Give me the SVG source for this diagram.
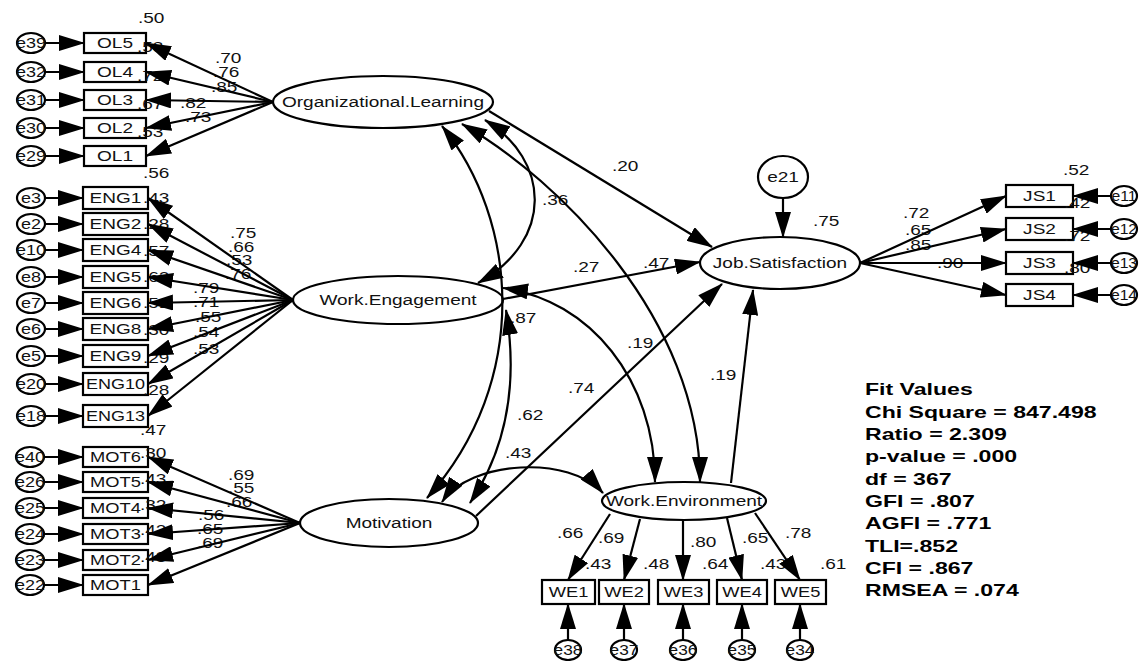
<svg xmlns="http://www.w3.org/2000/svg" width="1139" height="661" viewBox="0 0 1139 661">
<style>
.n ellipse,.n rect{fill:#fff;stroke:#000;stroke-width:2.2}
.t{font-family:"Liberation Sans",Arial,sans-serif;font-size:15px;fill:#111}
.m{text-anchor:middle}
.f{font-family:"Liberation Sans",Arial,sans-serif;font-size:16.5px;font-weight:bold;fill:#000}
.c path{fill:none;stroke:#000;stroke-width:2.2}
.a{marker-end:url(#ah)}
.d{marker-start:url(#ah);marker-end:url(#ah)}
</style>
<defs>
<marker id="ah" viewBox="0 0 26 16" refX="25" refY="8" markerWidth="26" markerHeight="16" markerUnits="userSpaceOnUse" orient="auto-start-reverse"><path d="M0,0 L26,8 L0,16 z" fill="#000"/></marker>
</defs>
<rect width="1139" height="661" fill="#fff"/>

<!-- latent nodes -->
<g id="ol" class="n"><ellipse cx="383" cy="102" rx="110" ry="26"/><text class="t m" transform="translate(383 107) scale(1.27 1)">Organizational.Learning</text></g>
<g id="weng" class="n"><ellipse cx="398" cy="300" rx="105" ry="24"/><text class="t m" transform="translate(398 305) scale(1.27 1)">Work.Engagement</text></g>
<g id="mot" class="n"><ellipse cx="389" cy="523" rx="89" ry="24"/><text class="t m" transform="translate(389 528) scale(1.27 1)">Motivation</text></g>
<g id="js" class="n"><ellipse cx="780" cy="263" rx="80" ry="26"/><text class="t m" transform="translate(780 268) scale(1.27 1)">Job.Satisfaction</text></g>
<g id="wenv" class="n"><ellipse cx="684" cy="501" rx="82" ry="19"/><text class="t m" transform="translate(684 506) scale(1.27 1)">Work.Environment</text></g>
<g id="e21" class="n"><ellipse cx="783" cy="177" rx="25" ry="21"/><text class="t m" transform="translate(783 182) scale(1.27 1)">e21</text></g>

<!-- OL indicators -->
<g id="OL5" class="n"><rect x="84" y="33" width="62" height="20"/><text class="t m" transform="translate(115 48) scale(1.27 1)">OL5</text></g>
<g id="OL4" class="n"><rect x="84" y="62" width="62" height="20"/><text class="t m" transform="translate(115 77) scale(1.27 1)">OL4</text></g>
<g id="OL3" class="n"><rect x="84" y="90" width="62" height="20"/><text class="t m" transform="translate(115 105) scale(1.27 1)">OL3</text></g>
<g id="OL2" class="n"><rect x="84" y="118" width="62" height="20"/><text class="t m" transform="translate(115 133) scale(1.27 1)">OL2</text></g>
<g id="OL1" class="n"><rect x="84" y="146" width="62" height="20"/><text class="t m" transform="translate(115 161) scale(1.27 1)">OL1</text></g>
<g id="e39" class="n"><ellipse cx="31" cy="43" rx="14" ry="10"/><text class="t m" transform="translate(31 48) scale(1.2 1)">e39</text></g>
<g id="e32" class="n"><ellipse cx="31" cy="72" rx="14" ry="10"/><text class="t m" transform="translate(31 77) scale(1.2 1)">e32</text></g>
<g id="e31" class="n"><ellipse cx="31" cy="100" rx="14" ry="10"/><text class="t m" transform="translate(31 105) scale(1.2 1)">e31</text></g>
<g id="e30" class="n"><ellipse cx="31" cy="128" rx="14" ry="10"/><text class="t m" transform="translate(31 133) scale(1.2 1)">e30</text></g>
<g id="e29" class="n"><ellipse cx="31" cy="156" rx="14" ry="10"/><text class="t m" transform="translate(31 161) scale(1.2 1)">e29</text></g>

<!-- ENG indicators -->
<g id="ENG1" class="n"><rect x="83" y="187" width="65" height="22"/><text class="t m" transform="translate(115.5 203) scale(1.27 1)">ENG1</text></g>
<g id="ENG2" class="n"><rect x="83" y="213" width="65" height="22"/><text class="t m" transform="translate(115.5 229) scale(1.27 1)">ENG2</text></g>
<g id="ENG4" class="n"><rect x="83" y="239" width="65" height="22"/><text class="t m" transform="translate(115.5 255) scale(1.27 1)">ENG4</text></g>
<g id="ENG5" class="n"><rect x="83" y="266" width="65" height="22"/><text class="t m" transform="translate(115.5 282) scale(1.27 1)">ENG5</text></g>
<g id="ENG6" class="n"><rect x="83" y="292" width="65" height="22"/><text class="t m" transform="translate(115.5 308) scale(1.27 1)">ENG6</text></g>
<g id="ENG8" class="n"><rect x="83" y="318" width="65" height="22"/><text class="t m" transform="translate(115.5 334) scale(1.27 1)">ENG8</text></g>
<g id="ENG9" class="n"><rect x="83" y="345" width="65" height="22"/><text class="t m" transform="translate(115.5 361) scale(1.27 1)">ENG9</text></g>
<g id="ENG10" class="n"><rect x="83" y="373" width="65" height="22"/><text class="t m" transform="translate(115.5 389) scale(1.2 1)">ENG10</text></g>
<g id="ENG13" class="n"><rect x="83" y="405" width="65" height="22"/><text class="t m" transform="translate(115.5 421) scale(1.2 1)">ENG13</text></g>
<g id="e3" class="n"><ellipse cx="31" cy="198" rx="14" ry="10"/><text class="t m" transform="translate(31 203) scale(1.2 1)">e3</text></g>
<g id="e2" class="n"><ellipse cx="31" cy="224" rx="14" ry="10"/><text class="t m" transform="translate(31 229) scale(1.2 1)">e2</text></g>
<g id="e10" class="n"><ellipse cx="31" cy="250" rx="14" ry="10"/><text class="t m" transform="translate(31 255) scale(1.2 1)">e10</text></g>
<g id="e8" class="n"><ellipse cx="31" cy="277" rx="14" ry="10"/><text class="t m" transform="translate(31 282) scale(1.2 1)">e8</text></g>
<g id="e7" class="n"><ellipse cx="31" cy="303" rx="14" ry="10"/><text class="t m" transform="translate(31 308) scale(1.2 1)">e7</text></g>
<g id="e6" class="n"><ellipse cx="31" cy="329" rx="14" ry="10"/><text class="t m" transform="translate(31 334) scale(1.2 1)">e6</text></g>
<g id="e5" class="n"><ellipse cx="31" cy="356" rx="14" ry="10"/><text class="t m" transform="translate(31 361) scale(1.2 1)">e5</text></g>
<g id="e20" class="n"><ellipse cx="31" cy="384" rx="14" ry="10"/><text class="t m" transform="translate(31 389) scale(1.2 1)">e20</text></g>
<g id="e18" class="n"><ellipse cx="31" cy="416" rx="14" ry="10"/><text class="t m" transform="translate(31 421) scale(1.2 1)">e18</text></g>

<!-- MOT indicators -->
<g id="MOT6" class="n"><rect x="83" y="447" width="65" height="20"/><text class="t m" transform="translate(115.5 462) scale(1.22 1)">MOT6</text></g>
<g id="MOT5" class="n"><rect x="83" y="472" width="65" height="20"/><text class="t m" transform="translate(115.5 487) scale(1.22 1)">MOT5</text></g>
<g id="MOT4" class="n"><rect x="83" y="498" width="65" height="20"/><text class="t m" transform="translate(115.5 513) scale(1.22 1)">MOT4</text></g>
<g id="MOT3" class="n"><rect x="83" y="524" width="65" height="20"/><text class="t m" transform="translate(115.5 539) scale(1.22 1)">MOT3</text></g>
<g id="MOT2" class="n"><rect x="83" y="550" width="65" height="20"/><text class="t m" transform="translate(115.5 565) scale(1.22 1)">MOT2</text></g>
<g id="MOT1" class="n"><rect x="83" y="575" width="65" height="20"/><text class="t m" transform="translate(115.5 590) scale(1.22 1)">MOT1</text></g>
<g id="e40" class="n"><ellipse cx="30" cy="457" rx="14" ry="10"/><text class="t m" transform="translate(30 462) scale(1.2 1)">e40</text></g>
<g id="e26" class="n"><ellipse cx="30" cy="482" rx="14" ry="10"/><text class="t m" transform="translate(30 487) scale(1.2 1)">e26</text></g>
<g id="e25" class="n"><ellipse cx="30" cy="508" rx="14" ry="10"/><text class="t m" transform="translate(30 513) scale(1.2 1)">e25</text></g>
<g id="e24" class="n"><ellipse cx="30" cy="534" rx="14" ry="10"/><text class="t m" transform="translate(30 539) scale(1.2 1)">e24</text></g>
<g id="e23" class="n"><ellipse cx="30" cy="560" rx="14" ry="10"/><text class="t m" transform="translate(30 565) scale(1.2 1)">e23</text></g>
<g id="e22" class="n"><ellipse cx="30" cy="585" rx="14" ry="10"/><text class="t m" transform="translate(30 590) scale(1.2 1)">e22</text></g>

<!-- JS indicators -->
<g id="JS1" class="n"><rect x="1006" y="185" width="67" height="22"/><text class="t m" transform="translate(1039.5 201) scale(1.27 1)">JS1</text></g>
<g id="JS2" class="n"><rect x="1006" y="218" width="67" height="22"/><text class="t m" transform="translate(1039.5 234) scale(1.27 1)">JS2</text></g>
<g id="JS3" class="n"><rect x="1006" y="252" width="67" height="22"/><text class="t m" transform="translate(1039.5 268) scale(1.27 1)">JS3</text></g>
<g id="JS4" class="n"><rect x="1006" y="284" width="67" height="22"/><text class="t m" transform="translate(1039.5 300) scale(1.27 1)">JS4</text></g>
<g id="e11" class="n"><ellipse cx="1124" cy="196" rx="13" ry="10"/><text class="t m" transform="translate(1124 201) scale(1.05 1)">e11</text></g>
<g id="e12" class="n"><ellipse cx="1124" cy="229" rx="13" ry="10"/><text class="t m" transform="translate(1124 234) scale(1.05 1)">e12</text></g>
<g id="e13" class="n"><ellipse cx="1124" cy="263" rx="13" ry="10"/><text class="t m" transform="translate(1124 268) scale(1.05 1)">e13</text></g>
<g id="e14" class="n"><ellipse cx="1124" cy="295" rx="13" ry="10"/><text class="t m" transform="translate(1124 300) scale(1.05 1)">e14</text></g>

<!-- WE indicators -->
<g id="WE1" class="n"><rect x="542" y="580" width="53" height="24"/><text class="t m" transform="translate(568.5 597) scale(1.22 1)">WE1</text></g>
<g id="WE2" class="n"><rect x="599" y="580" width="50" height="24"/><text class="t m" transform="translate(624 597) scale(1.22 1)">WE2</text></g>
<g id="WE3" class="n"><rect x="658" y="580" width="51" height="24"/><text class="t m" transform="translate(683.5 597) scale(1.22 1)">WE3</text></g>
<g id="WE4" class="n"><rect x="717" y="580" width="50" height="24"/><text class="t m" transform="translate(742 597) scale(1.22 1)">WE4</text></g>
<g id="WE5" class="n"><rect x="775" y="580" width="51" height="24"/><text class="t m" transform="translate(800.5 597) scale(1.22 1)">WE5</text></g>
<g id="e38" class="n"><ellipse cx="568" cy="650" rx="13" ry="10"/><text class="t m" transform="translate(568 655) scale(1.15 1)">e38</text></g>
<g id="e37" class="n"><ellipse cx="624" cy="650" rx="13" ry="10"/><text class="t m" transform="translate(624 655) scale(1.15 1)">e37</text></g>
<g id="e36" class="n"><ellipse cx="683" cy="650" rx="13" ry="10"/><text class="t m" transform="translate(683 655) scale(1.15 1)">e36</text></g>
<g id="e35" class="n"><ellipse cx="742" cy="650" rx="13" ry="10"/><text class="t m" transform="translate(742 655) scale(1.15 1)">e35</text></g>
<g id="e34" class="n"><ellipse cx="800" cy="650" rx="13" ry="10"/><text class="t m" transform="translate(800 655) scale(1.15 1)">e34</text></g>

<!-- coefficient labels -->
<g id="labels" class="t">
<text transform="translate(215 63) scale(1.27 1)">.70</text>
<text transform="translate(213 77) scale(1.27 1)">.76</text>
<text transform="translate(211 92) scale(1.27 1)">.85</text>
<text transform="translate(180 108) scale(1.27 1)">.82</text>
<text transform="translate(185 122) scale(1.27 1)">.73</text>
<text transform="translate(138 23) scale(1.27 1)">.50</text>
<text transform="translate(137 52) scale(1.27 1)">.58</text>
<text transform="translate(137 81) scale(1.27 1)">.72</text>
<text transform="translate(137 109) scale(1.27 1)">.67</text>
<text transform="translate(137 137) scale(1.27 1)">.53</text>
<text transform="translate(143 178) scale(1.27 1)">.56</text>
<text transform="translate(143 203) scale(1.27 1)">.43</text>
<text transform="translate(143 229) scale(1.27 1)">.28</text>
<text transform="translate(143 256) scale(1.27 1)">.57</text>
<text transform="translate(143 282) scale(1.27 1)">.62</text>
<text transform="translate(143 308) scale(1.27 1)">.51</text>
<text transform="translate(143 335) scale(1.27 1)">.30</text>
<text transform="translate(143 363) scale(1.27 1)">.29</text>
<text transform="translate(143 395) scale(1.27 1)">.28</text>
<text transform="translate(230 238) scale(1.27 1)">.75</text>
<text transform="translate(228 252) scale(1.27 1)">.66</text>
<text transform="translate(226 265) scale(1.27 1)">.53</text>
<text transform="translate(225 279) scale(1.27 1)">.76</text>
<text transform="translate(193 293) scale(1.27 1)">.79</text>
<text transform="translate(193 307) scale(1.27 1)">.71</text>
<text transform="translate(195 322) scale(1.27 1)">.55</text>
<text transform="translate(193 337) scale(1.27 1)">.54</text>
<text transform="translate(193 354) scale(1.27 1)">.53</text>
<text transform="translate(140 435) scale(1.27 1)">.47</text>
<text transform="translate(140 458) scale(1.27 1)">.30</text>
<text transform="translate(140 484) scale(1.27 1)">.43</text>
<text transform="translate(140 510) scale(1.27 1)">.32</text>
<text transform="translate(140 535) scale(1.27 1)">.42</text>
<text transform="translate(140 562) scale(1.27 1)">.48</text>
<text transform="translate(228 480) scale(1.27 1)">.69</text>
<text transform="translate(228 493) scale(1.27 1)">.55</text>
<text transform="translate(226 507) scale(1.27 1)">.66</text>
<text transform="translate(198 520) scale(1.27 1)">.56</text>
<text transform="translate(197 534) scale(1.27 1)">.65</text>
<text transform="translate(197 548) scale(1.27 1)">.69</text>
<text transform="translate(903 218) scale(1.27 1)">.72</text>
<text transform="translate(905 235) scale(1.27 1)">.65</text>
<text transform="translate(905 250) scale(1.27 1)">.85</text>
<text transform="translate(937 268) scale(1.27 1)">.90</text>
<text transform="translate(1063 175) scale(1.27 1)">.52</text>
<text transform="translate(1064 208) scale(1.27 1)">.42</text>
<text transform="translate(1064 241) scale(1.27 1)">.72</text>
<text transform="translate(1064 273) scale(1.27 1)">.80</text>
<text transform="translate(557 538) scale(1.27 1)">.66</text>
<text transform="translate(598 543) scale(1.27 1)">.69</text>
<text transform="translate(690 547) scale(1.27 1)">.80</text>
<text transform="translate(742 543) scale(1.27 1)">.65</text>
<text transform="translate(785 538) scale(1.27 1)">.78</text>
<text transform="translate(585 569) scale(1.27 1)">.43</text>
<text transform="translate(643 569) scale(1.27 1)">.48</text>
<text transform="translate(702 569) scale(1.27 1)">.64</text>
<text transform="translate(760 569) scale(1.27 1)">.43</text>
<text transform="translate(820 569) scale(1.27 1)">.61</text>
<text transform="translate(612 171) scale(1.27 1)">.20</text>
<text transform="translate(542 205) scale(1.27 1)">.36</text>
<text transform="translate(573 272) scale(1.27 1)">.27</text>
<text transform="translate(643 268) scale(1.27 1)">.47</text>
<text transform="translate(813 226) scale(1.27 1)">.75</text>
<text transform="translate(510 323) scale(1.27 1)">.87</text>
<text transform="translate(627 348) scale(1.27 1)">.19</text>
<text transform="translate(568 393) scale(1.27 1)">.74</text>
<text transform="translate(517 420) scale(1.27 1)">.62</text>
<text transform="translate(505 458) scale(1.27 1)">.43</text>
<text transform="translate(710 380) scale(1.27 1)">.19</text>
</g>

<!-- connectors -->
<g id="connectors" class="c">
<!-- OL loadings -->
<path class="a" d="M273,102 L146,43"/>
<path class="a" d="M273,102 L146,72"/>
<path class="a" d="M273,102 L146,100"/>
<path class="a" d="M273,102 L146,128"/>
<path class="a" d="M273,102 L146,156"/>
<!-- ENG loadings -->
<path class="a" d="M293,300 L148,198"/>
<path class="a" d="M293,300 L148,224"/>
<path class="a" d="M293,300 L148,250"/>
<path class="a" d="M293,300 L148,277"/>
<path class="a" d="M293,300 L148,303"/>
<path class="a" d="M293,300 L148,329"/>
<path class="a" d="M293,300 L148,356"/>
<path class="a" d="M293,300 L148,384"/>
<path class="a" d="M293,300 L148,416"/>
<!-- MOT loadings -->
<path class="a" d="M300,523 L148,457"/>
<path class="a" d="M300,523 L148,482"/>
<path class="a" d="M300,523 L148,508"/>
<path class="a" d="M300,523 L148,534"/>
<path class="a" d="M300,523 L148,560"/>
<path class="a" d="M300,523 L148,585"/>
<!-- JS loadings -->
<path class="a" d="M860,263 L1006,196"/>
<path class="a" d="M860,263 L1006,229"/>
<path class="a" d="M860,263 L1006,263"/>
<path class="a" d="M860,263 L1006,295"/>
<!-- WE loadings -->
<path class="a" d="M610,514 L568,580"/>
<path class="a" d="M640,519 L624,580"/>
<path class="a" d="M683,520 L683,580"/>
<path class="a" d="M727,518 L742,580"/>
<path class="a" d="M755,513 L800,580"/>
<!-- error terms -->
<path class="a" d="M45,43 L84,43"/>
<path class="a" d="M45,72 L84,72"/>
<path class="a" d="M45,100 L84,100"/>
<path class="a" d="M45,128 L84,128"/>
<path class="a" d="M45,156 L84,156"/>
<path class="a" d="M45,198 L83,198"/>
<path class="a" d="M45,224 L83,224"/>
<path class="a" d="M45,250 L83,250"/>
<path class="a" d="M45,277 L83,277"/>
<path class="a" d="M45,303 L83,303"/>
<path class="a" d="M45,329 L83,329"/>
<path class="a" d="M45,356 L83,356"/>
<path class="a" d="M45,384 L83,384"/>
<path class="a" d="M45,416 L83,416"/>
<path class="a" d="M44,457 L83,457"/>
<path class="a" d="M44,482 L83,482"/>
<path class="a" d="M44,508 L83,508"/>
<path class="a" d="M44,534 L83,534"/>
<path class="a" d="M44,560 L83,560"/>
<path class="a" d="M44,585 L83,585"/>
<path class="a" d="M1111,196 L1073,196"/>
<path class="a" d="M1111,229 L1073,229"/>
<path class="a" d="M1111,263 L1073,263"/>
<path class="a" d="M1111,295 L1073,295"/>
<path class="a" d="M568,640 L568,604"/>
<path class="a" d="M624,640 L624,604"/>
<path class="a" d="M683,640 L683,604"/>
<path class="a" d="M742,640 L742,604"/>
<path class="a" d="M800,640 L800,604"/>
<path class="a" d="M783,198 L783,237"/>
<!-- structural paths -->
<path class="a" d="M489,111 L712,247"/>
<path class="a" d="M503,299 L700,262"/>
<path class="a" d="M476,516 L722,284"/>
<path class="a" d="M731,483 L753,290"/>
<!-- covariances -->
<path class="d" d="M485,120 C550,160 555,240 478,283"/>
<path class="d" d="M462,124 C560,180 700,320 700,482"/>
<path class="d" d="M442,126 C518,220 532,380 427,498"/>
<path class="d" d="M506,310 C516,370 512,440 470,503"/>
<path class="d" d="M442,502 C470,460 570,455 603,493"/>
<path class="d" d="M503,288 C590,300 655,380 655,482"/>
</g>

<!-- fit statistics -->
<g id="fit" class="f">
<text transform="translate(865 395) scale(1.4 1)">Fit Values</text>
<text transform="translate(865 418) scale(1.4 1)">Chi Square = 847.498</text>
<text transform="translate(865 440) scale(1.4 1)">Ratio = 2.309</text>
<text transform="translate(865 462) scale(1.4 1)">p-value = .000</text>
<text transform="translate(865 485) scale(1.4 1)">df = 367</text>
<text transform="translate(865 507) scale(1.4 1)">GFI = .807</text>
<text transform="translate(865 529) scale(1.4 1)">AGFI = .771</text>
<text transform="translate(865 552) scale(1.4 1)">TLI=.852</text>
<text transform="translate(865 574) scale(1.4 1)">CFI = .867</text>
<text transform="translate(865 596) scale(1.4 1)">RMSEA = .074</text>
</g>
</svg>
